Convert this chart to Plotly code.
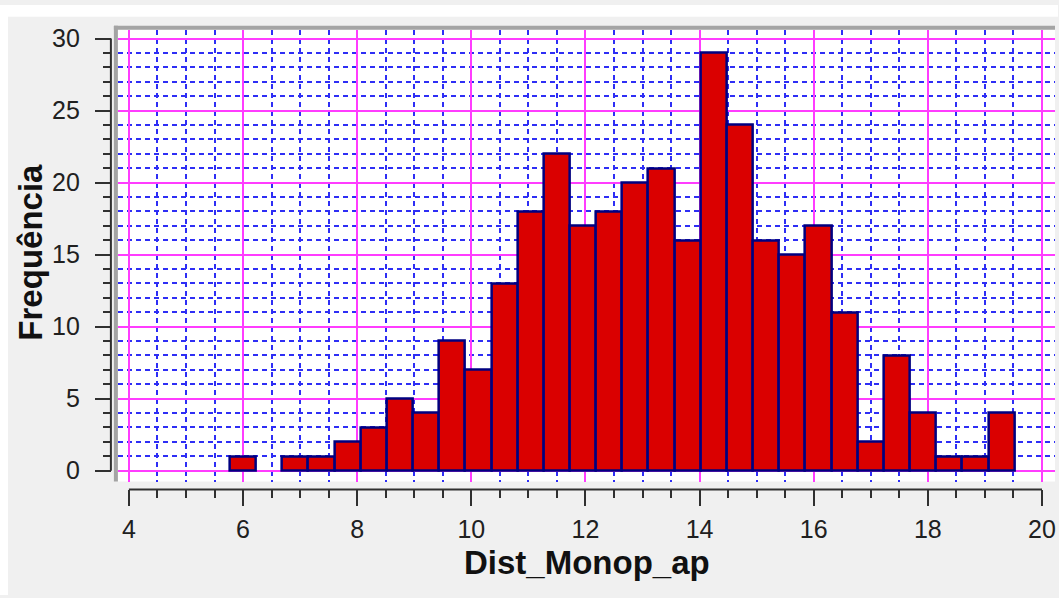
import plotly.graph_objects as go

# ---- data ----
bin_start = 5.77
bin_width = 0.4583
counts = [1, 0, 1, 1, 2, 3, 5, 4, 9, 7,
          13, 18, 22, 17, 18, 20, 21, 16, 29, 24,
          16, 15, 17, 11, 2, 8, 4, 1, 1, 4]
x_title = "Dist_Monop_ap"
y_title = "Frequência"

centers = [bin_start + bin_width * (i + 0.5) for i in range(len(counts))]

# ---- layout constants (pixels from the top-left of the page) ----
W, H = 1059, 598
PL, PR, PT, PB = 118, 1056, 25, 483          # plot box
xr = [3.807, 20.228]
yr = [-0.753, 30.616]
xdom = [PL / W, PR / W]
ydom = [1 - PB / H, 1 - PT / H]
x_axis_pos = 1 - 491 / H
y_axis_pos = 111 / W

def xpaper(v):
    return xdom[0] + (v - xr[0]) / (xr[1] - xr[0]) * (xdom[1] - xdom[0])

def ypaper(v):
    return ydom[0] + (v - yr[0]) / (yr[1] - yr[0]) * (ydom[1] - ydom[0])

MAGENTA = "#FF3CFF"
BLUE = "#2E2EF5"
TICKC = "#303030"
FONT = "Liberation Sans, Arial, sans-serif"

fig = go.Figure()
fig.add_trace(go.Bar(
    x=centers, y=counts, width=bin_width,
    marker=dict(color="#DA0000",
                line=dict(color="#000080",
                          width=[2.5 if c > 0 else 0 for c in counts])),
    hoverinfo="skip", showlegend=False,
))

axis_common = dict(
    showline=False, zeroline=False, ticks="outside",
    tickwidth=2, tickcolor=TICKC, ticklen=16,
    tickfont=dict(family=FONT, size=25, color="#202020"),
    showgrid=True, gridcolor=MAGENTA, gridwidth=2,
    anchor="free",
)

fig.update_layout(
    width=W, height=H,
    margin=dict(l=0, r=0, t=0, b=0, pad=0),
    paper_bgcolor="#F0F0F0",
    plot_bgcolor="white",
    xaxis=dict(
        domain=xdom, range=xr, position=x_axis_pos,
        tick0=0, dtick=2,
        minor=dict(dtick=0.5, tick0=0, ticks="outside", ticklen=8, tickwidth=2,
                   tickcolor=TICKC, showgrid=True, gridcolor=BLUE, gridwidth=2,
                   griddash="5px,4px"),
        ticklabelstandoff=2,
        **axis_common,
    ),
    yaxis=dict(
        domain=ydom, range=yr, position=y_axis_pos,
        tick0=0, dtick=5,
        minor=dict(dtick=1, tick0=0, ticks="outside", ticklen=8, tickwidth=2,
                   tickcolor=TICKC, showgrid=True, gridcolor=BLUE, gridwidth=2,
                   griddash="5px,4px"),
        ticklabelstandoff=10,
        **axis_common,
    ),
    bargap=0,
)

shapes = [
    # white strips at the top and left edge of the image
    dict(type="rect", xref="paper", yref="paper", x0=0, x1=1, y0=1 - 12 / H, y1=1,
         fillcolor="white", line=dict(width=0), layer="below"),
    dict(type="rect", xref="paper", yref="paper", x0=0, x1=8 / W, y0=0, y1=1,
         fillcolor="white", line=dict(width=0), layer="below"),
    # frame (grey left + top edges)
    dict(type="rect", xref="paper", yref="paper", x0=114 / W, x1=PL / W,
         y0=1 - PB / H, y1=1 - 21 / H, fillcolor="#A4A4A4", line=dict(width=0)),
    dict(type="rect", xref="paper", yref="paper", x0=114 / W, x1=PR / W,
         y0=1 - PT / H, y1=1 - 21 / H, fillcolor="#A4A4A4", line=dict(width=0)),
    # axis lines
    dict(type="line", xref="paper", yref="paper",
         x0=xpaper(4), x1=xpaper(20), y0=x_axis_pos, y1=x_axis_pos,
         line=dict(color=TICKC, width=2)),
    dict(type="line", xref="paper", yref="paper",
         x0=y_axis_pos, x1=y_axis_pos, y0=ypaper(0), y1=ypaper(30),
         line=dict(color=TICKC, width=2)),
]
fig.update_layout(shapes=shapes)

fig.add_annotation(text=f"<b>{x_title}</b>", xref="paper", yref="paper",
                   x=588 / W, y=1 - 565 / H, xanchor="center", yanchor="middle",
                   showarrow=False, font=dict(family=FONT, size=33, color="#111111"))
fig.add_annotation(text=f"<b>{y_title}</b>", xref="paper", yref="paper",
                   x=31 / W, y=1 - 250 / H, xanchor="center", yanchor="middle",
                   textangle=-90, showarrow=False,
                   font=dict(family=FONT, size=33, color="#111111"))

# remove the browser's default page margin so the figure fills the window
fig.write_html(
    "out.html",
    config={"displayModeBar": False},
    post_script="document.body.style.margin='0';document.body.style.overflow='hidden';",
)
